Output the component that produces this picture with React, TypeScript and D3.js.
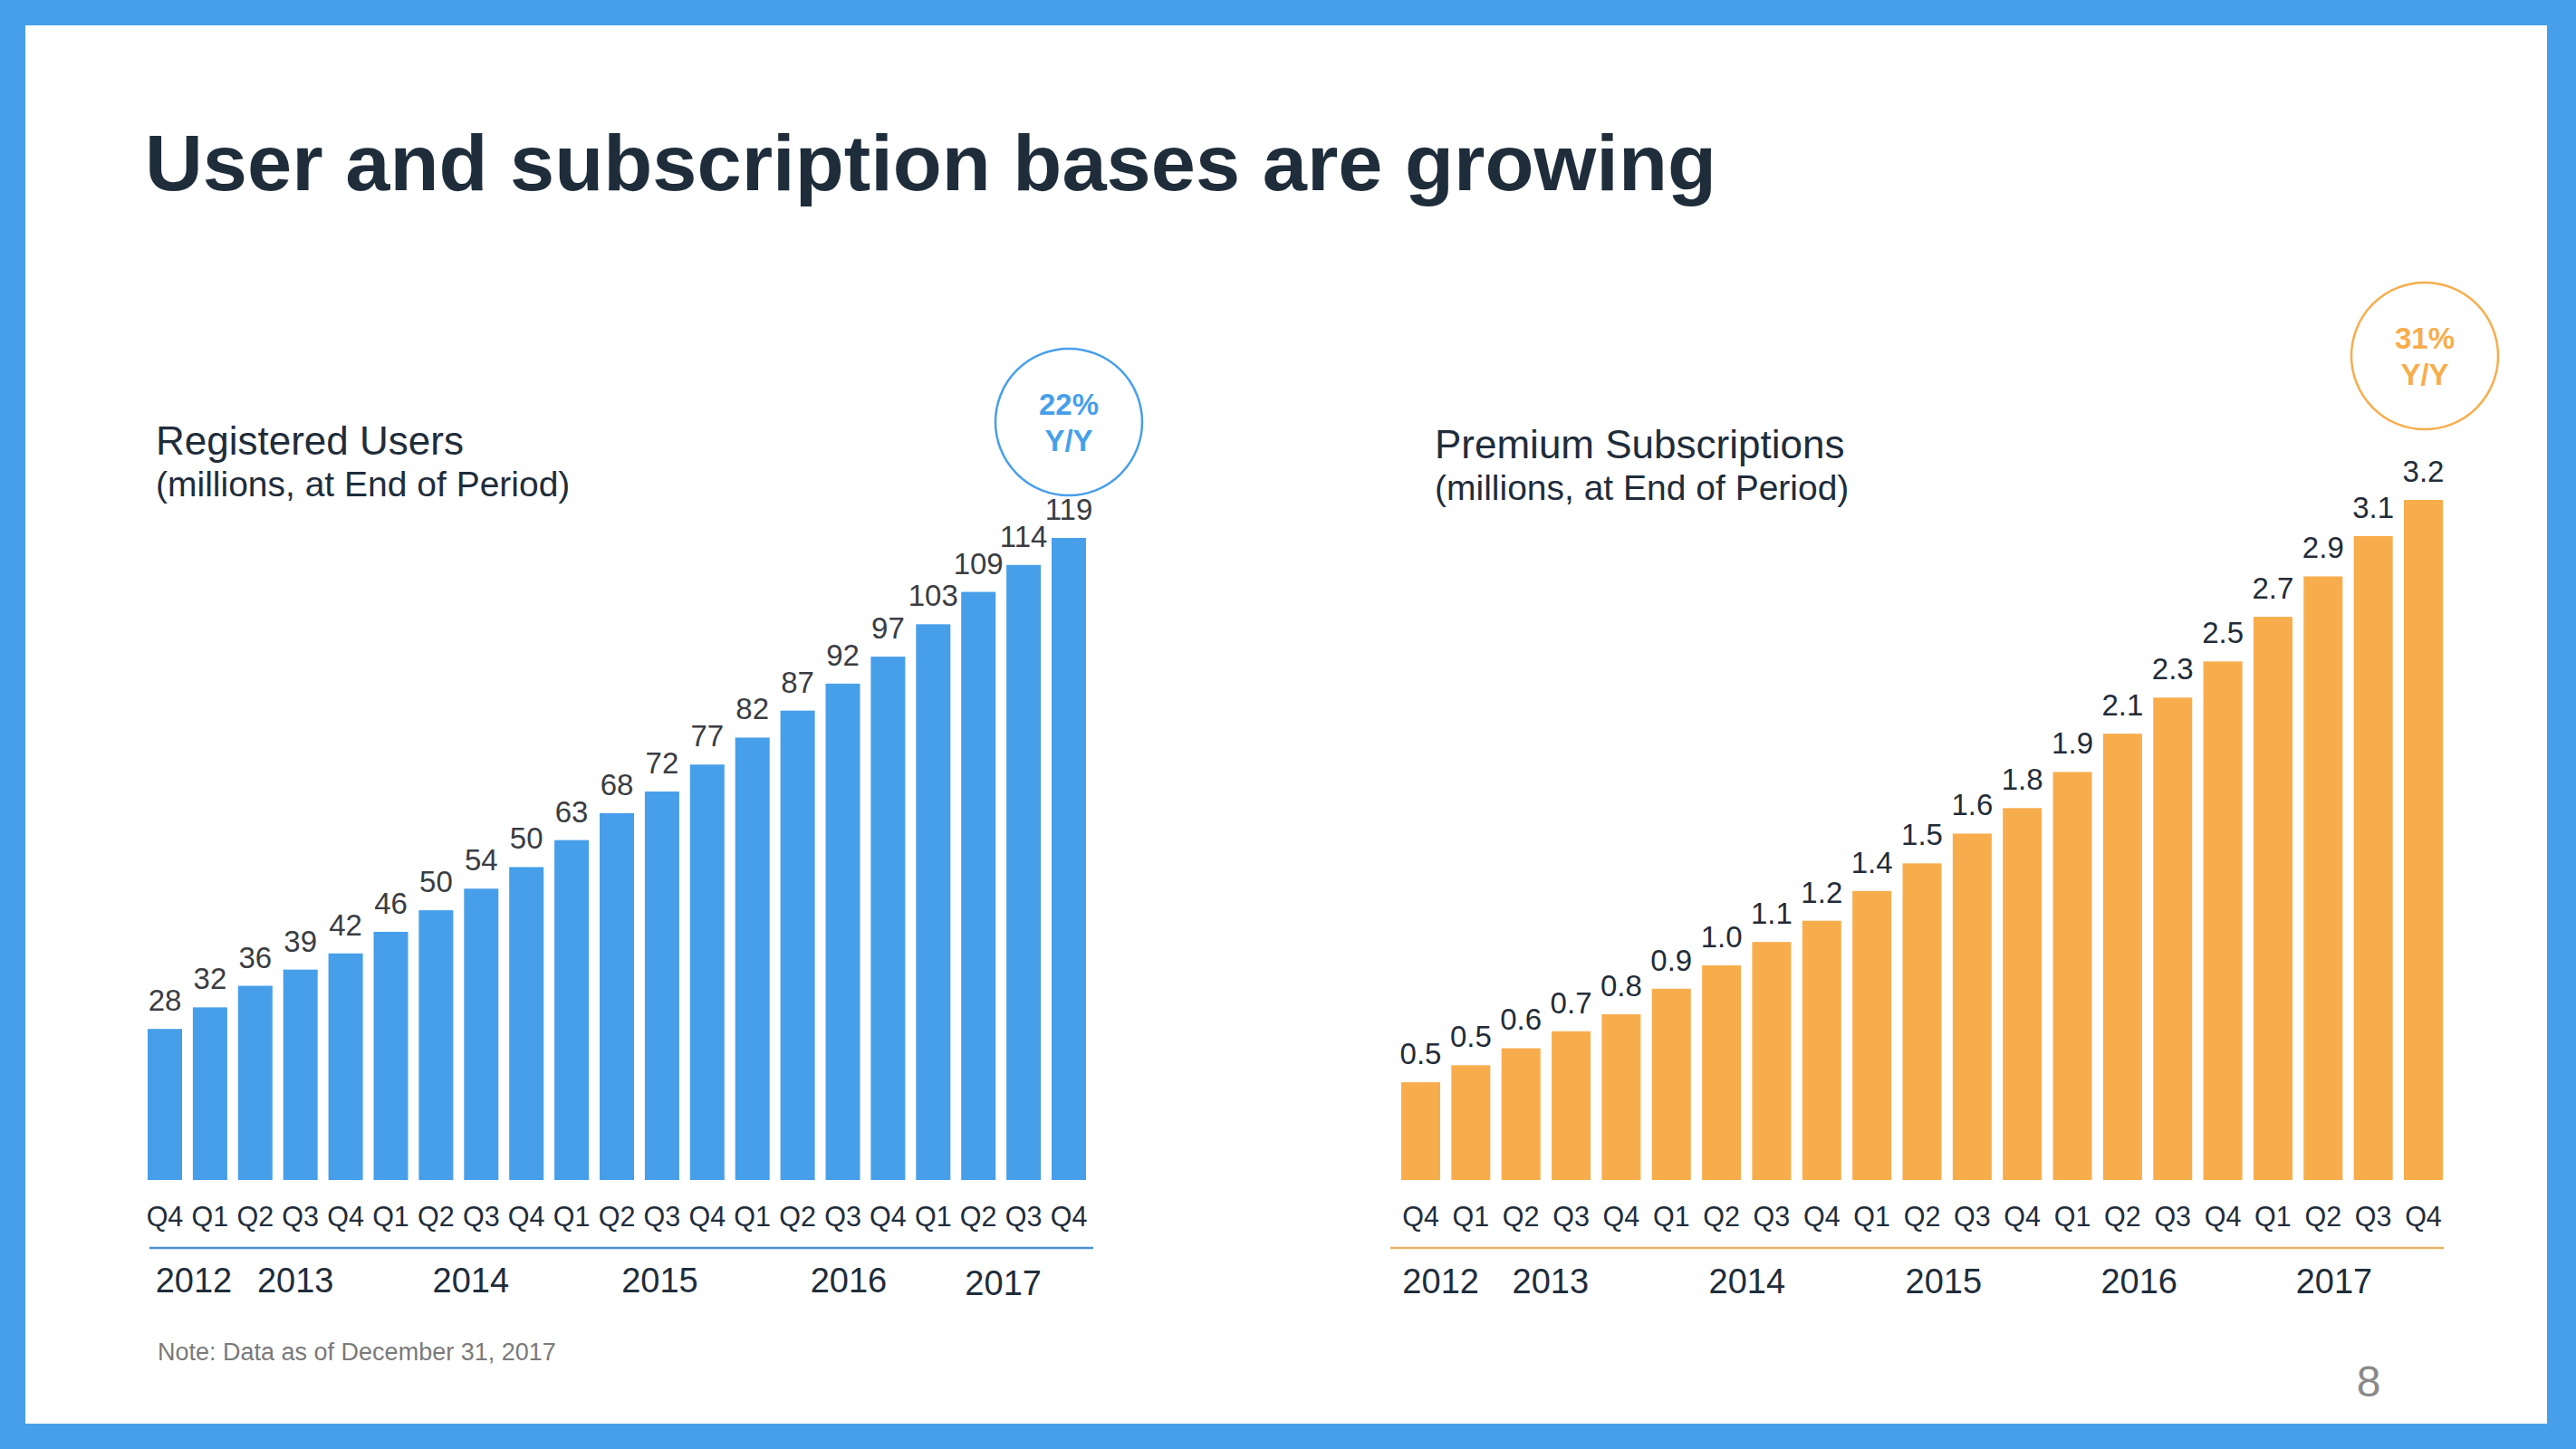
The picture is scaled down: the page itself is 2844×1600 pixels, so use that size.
import React from "react";
import * as d3 from "d3";

const W = 2844;
const H = 1600;

const quarters = ["Q4","Q1","Q2","Q3","Q4","Q1","Q2","Q3","Q4","Q1","Q2","Q3","Q4","Q1","Q2","Q3","Q4","Q1","Q2","Q3","Q4"];
const periods = quarters.map((q, i) => `${q}-${i}`);

const usersValues = [28,32,36,39,42,46,50,54,58,63,68,72,77,82,87,92,97,103,109,114,119];
const usersLabels = ["28","32","36","39","42","46","50","54","50","63","68","72","77","82","87","92","97","103","109","114","119"];

const subsValues = [0.46,0.54,0.62,0.70,0.78,0.90,1.01,1.12,1.22,1.36,1.49,1.63,1.75,1.92,2.10,2.27,2.44,2.65,2.84,3.03,3.20];
const subsLabels = ["0.5","0.5","0.6","0.7","0.8","0.9","1.0","1.1","1.2","1.4","1.5","1.6","1.8","1.9","2.1","2.3","2.5","2.7","2.9","3.1","3.2"];

const years = ["2012","2013","2014","2015","2016","2017"];
// year label centres, in bar-index units
const usersYearPos = [0.64, 2.89, 6.77, 10.95, 15.13, 18.55];
const subsYearPos = [0.4, 2.59, 6.51, 10.43, 14.33, 18.22];

const FONT = "'Liberation Sans', Arial, Helvetica, sans-serif";
const DARK = "#1f2d3b";
const BLUE = "#479fea";
const ORANGE = "#f8ad4c";

type PanelProps = {
  values: number[];
  labels: string[];
  yearPos: number[];
  x0: number; x1: number; padding: number;
  yTopValue: number; yTop: number; baseY: number;
  color: string; lineColor: string; labelColor: string;
  title: string; subtitle: string; titleX: number; titleY: number;
  circleCx: number; circleCy: number; growth: string;
  lineX0: number; lineX1: number;
  yearYs: number[];
};

function Panel(p: PanelProps) {
  const x = d3.scaleBand<string>().domain(periods).range([p.x0, p.x1]).paddingInner(p.padding).paddingOuter(0);
  const y = d3.scaleLinear().domain([0, p.yTopValue]).range([p.baseY, p.yTop]);
  const bw = x.bandwidth();
  const c0 = (x(periods[0]) as number) + bw / 2;
  return (
    <g fontFamily={FONT}>
      <text x={p.titleX} y={p.titleY} fontSize={44} fill={DARK}>{p.title}</text>
      <text x={p.titleX} y={p.titleY + 46} fontSize={39} fill={DARK}>{p.subtitle}</text>
      {p.values.map((v, i) => (
        <rect key={i} x={x(periods[i])} y={y(v)} width={bw} height={p.baseY - y(v)} fill={p.color} />
      ))}
      {p.values.map((v, i) => (
        <text key={"l" + i} x={(x(periods[i]) as number) + bw / 2} y={y(v) - 20} fontSize={33} fill={p.labelColor} textAnchor="middle">{p.labels[i]}</text>
      ))}
      {quarters.map((q, i) => (
        <text key={"q" + i} x={(x(periods[i]) as number) + bw / 2} y={p.baseY + 51} fontSize={30.5} fill={DARK} textAnchor="middle">{q}</text>
      ))}
      <line x1={p.lineX0} x2={p.lineX1} y1={p.baseY + 75} y2={p.baseY + 75} stroke={p.lineColor} strokeWidth={2.5} />
      {years.map((yr, i) => (
        <text key={"y" + i} x={c0 + p.yearPos[i] * x.step()} y={p.yearYs[i]} fontSize={38} fill={DARK} textAnchor="middle">{yr}</text>
      ))}
      <circle cx={p.circleCx} cy={p.circleCy} r={81} fill="none" stroke={p.color} strokeWidth={2.5} />
      <text x={p.circleCx} y={p.circleCy - 8} fontSize={33} fontWeight="bold" fill={p.color} textAnchor="middle">{p.growth}</text>
      <text x={p.circleCx} y={p.circleCy + 32} fontSize={33} fontWeight="bold" fill={p.color} textAnchor="middle">Y/Y</text>
    </g>
  );
}

export default function App() {
  return (
    <svg width={W} height={H} viewBox={`0 0 ${W} ${H}`} style={{ position: "absolute", left: 0, top: 0, display: "block" }}>
      <rect x={0} y={0} width={W} height={H} fill={BLUE} />
      <rect x={28} y={28} width={2784} height={1544} fill="#ffffff" />
      <text x={160} y={210} fontFamily={FONT} fontSize={88} fontWeight="bold" fill={DARK} textLength={1735} lengthAdjust="spacingAndGlyphs">User and subscription bases are growing</text>
      <Panel
        values={usersValues} labels={usersLabels} yearPos={usersYearPos}
        x0={163} x1={1199} padding={0.2385}
        yTopValue={119} yTop={594} baseY={1303}
        color={BLUE} lineColor="#4a90d9" labelColor="#3a3d42"
        title="Registered Users" subtitle="(millions, at End of Period)" titleX={172} titleY={502}
        circleCx={1180} circleCy={466} growth="22%"
        lineX0={165} lineX1={1207}
        yearYs={[1427,1427,1427,1427,1427,1430]}
      />
      <Panel
        values={subsValues} labels={subsLabels} yearPos={subsYearPos}
        x0={1547} x1={2697} padding={0.2231}
        yTopValue={3.2} yTop={552} baseY={1303}
        color={ORANGE} lineColor="#e9b262" labelColor="#232c38"
        title="Premium Subscriptions" subtitle="(millions, at End of Period)" titleX={1584} titleY={506}
        circleCx={2677} circleCy={393} growth="31%"
        lineX0={1535} lineX1={2698}
        yearYs={[1428,1428,1428,1428,1428,1428]}
      />
      <text x={174} y={1502} fontFamily={FONT} fontSize={27} fill="#7a7a7a">Note: Data as of December 31, 2017</text>
      <text x={2615} y={1542} fontFamily={FONT} fontSize={48} fill="#8a8a8a" textAnchor="middle">8</text>
    </svg>
  );
}
